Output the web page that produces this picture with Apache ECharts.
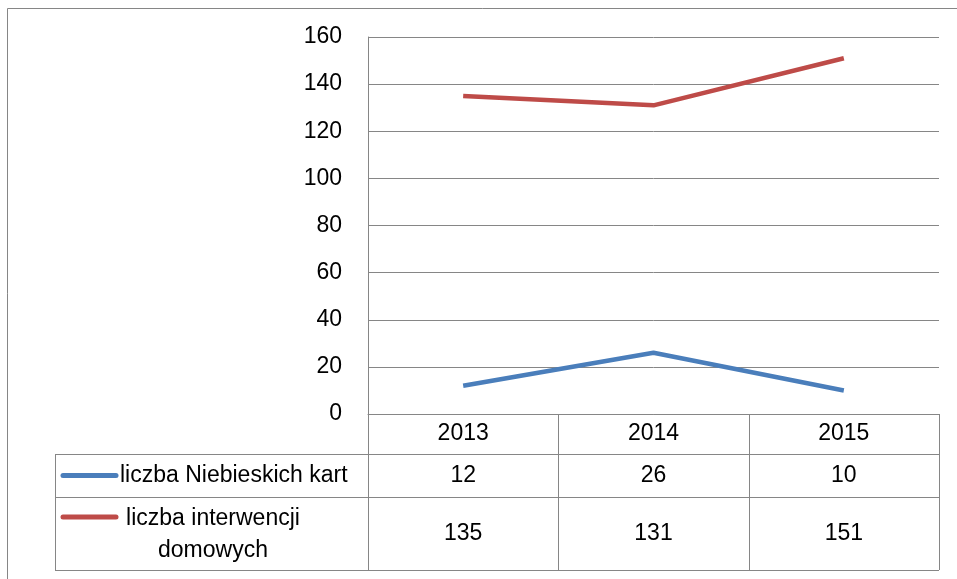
<!DOCTYPE html>
<html>
<head>
<meta charset="utf-8">
<script src="https://cdn.jsdelivr.net/npm/echarts@6/dist/echarts.min.js"></script>
<style>
  html, body { margin: 0; padding: 0; background: #fff; }
  #chart { width: 957px; height: 579px; }
</style>
</head>
<body>
<div id="chart"></div>
<script>
// dane
var years = ['2013', '2014', '2015'];
var seriesNames = ['liczba Niebieskich kart', 'liczba interwencji\ndomowych'];
var niebieskieKarty = [12, 26, 10];
var interwencje = [135, 131, 151];
var yTicks = { min: 0, max: 160, step: 20 };

var colors = ['#4A7EBB', '#BE4B48'];
var FONT = '"Liberation Sans", Arial, sans-serif';
var gridColor = '#868686';

var chart = echarts.init(document.getElementById('chart'));
var option = {
    animation: false,
    grid: { left: 368, right: 18, top: 37, bottom: 165 },
    xAxis: {
        type: 'category',
        data: years,
        boundaryGap: true,
        axisLine: { lineStyle: { color: gridColor, width: 1 } },
        axisTick: { show: false },
        axisLabel: { show: false }
    },
    yAxis: {
        type: 'value',
        min: yTicks.min,
        max: yTicks.max,
        interval: yTicks.step,
        axisLine: { show: true, lineStyle: { color: gridColor, width: 1 } },
        axisTick: { show: false },
        axisLabel: { color: '#000', fontSize: 23, fontFamily: FONT, margin: 26 },
        splitLine: { lineStyle: { color: gridColor, width: 1 } }
    },
    series: [
        {
            name: seriesNames[0], type: 'line', data: niebieskieKarty,
            symbol: 'none', lineStyle: { color: colors[0], width: 4.5 }, itemStyle: { color: colors[0] }
        },
        {
            name: seriesNames[1], type: 'line', data: interwencje,
            symbol: 'none', lineStyle: { color: colors[1], width: 4.5 }, itemStyle: { color: colors[1] }
        }
    ]
};
chart.setOption(option);

// tabela danych pod wykresem
!function(){
    var gl = 368, gr = 939, top = 414;
    var rowH = [40, 43, 73];
    var leftCell = 55;
    var lineStyle = { stroke: gridColor, lineWidth: 1 };
    var els = [];
    var band = (gr - gl) / years.length;
    var y1 = top + rowH[0], y2 = y1 + rowH[1], y3 = y2 + rowH[2];

    function ln(x1, ya, x2, yb) {
        els.push({ type: 'line', shape: { x1: x1, y1: ya, x2: x2, y2: yb }, style: lineStyle, silent: true });
    }
    function txt(x, y, s, align) {
        els.push({ type: 'text', x: x, y: y, silent: true,
            style: { text: s, fill: '#000', font: '23px ' + FONT, align: align || 'center', verticalAlign: 'middle', lineHeight: 32 } });
    }

    // obramowanie
    ln(7.5, 8.5, 957, 8.5);
    ln(7.5, 8.5, 7.5, 579);

    // linie poziome
    ln(leftCell, y1 + 0.5, gr, y1 + 0.5);
    ln(leftCell, y2 + 0.5, gr, y2 + 0.5);
    ln(leftCell, y3 + 0.5, gr, y3 + 0.5);
    // linie pionowe
    ln(leftCell + 0.5, y1, leftCell + 0.5, y3);
    for (var i = 0; i <= years.length; i++) {
        var x = Math.round(gl + band * i) + 0.5;
        ln(x, top, x, y3);
    }

    var data = [niebieskieKarty, interwencje];
    for (var c = 0; c < years.length; c++) {
        var cx = chart.convertToPixel({ xAxisIndex: 0 }, years[c]);
        txt(cx, top + rowH[0] / 2, years[c]);
        txt(cx, y1 + rowH[1] / 2, String(data[0][c]));
        txt(cx, y2 + rowH[2] / 2, String(data[1][c]));
    }

    // klucze legendy
    var keyRows = [y1 + rowH[1] / 2, y2 + 20];
    for (var s = 0; s < 2; s++) {
        els.push({ type: 'line', silent: true,
            shape: { x1: 63, y1: keyRows[s], x2: 116, y2: keyRows[s] },
            style: { stroke: colors[s], lineWidth: 5, lineCap: 'round' } });
    }
    txt(120, y1 + rowH[1] / 2, seriesNames[0], 'left');
    txt(213, y2 + rowH[2] / 2 + 1, seriesNames[1], 'center');

    chart.setOption({ graphic: { elements: els } });
}();
</script>
</body>
</html>
